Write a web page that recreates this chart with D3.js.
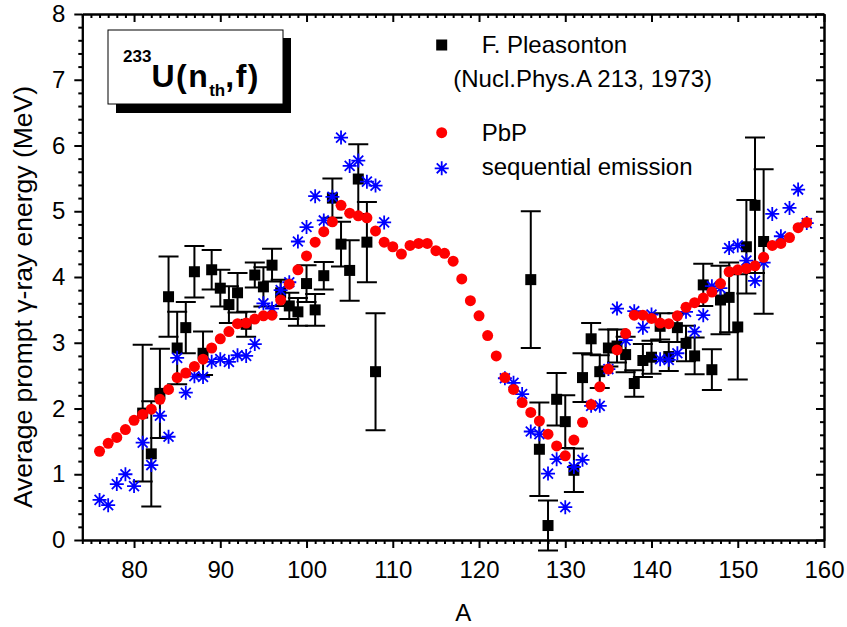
<!DOCTYPE html>
<html>
<head>
<meta charset="utf-8">
<script src="https://cdn.jsdelivr.net/npm/d3@7"></script>
<style>
  body { margin: 0; background: #fff; }
  text { font-family: "Liberation Sans", Arial, Helvetica, sans-serif; fill: #000; }
</style>
</head>
<body>
<svg id="chart" width="847" height="627"></svg>
<script>
// Axis tick labels
const xTickValues = [80, 90, 100, 110, 120, 130, 140, 150, 160];
const yTickValues = [0, 1, 2, 3, 4, 5, 6, 7, 8];

// PbP calculation: mass number A and average prompt gamma-ray energy (MeV)
const pbpA = [76,77,78,79,80,81,82,83,84,85,86,87,88,89,90,91,92,93,94,95,96,97,98,99,100,
  101,102,103,104,105,106,107,108,109,110,111,112,113,114,115,116,117,118,119,120,
  121,122,123,124,125,126,127,128,129,130,131,132,133,134,135,136,137,138,139,140,
  141,142,143,144,145,146,147,148,149,150,151,152,153,154,155,156,157,158];
const pbpE = [1.35,1.47,1.56,1.68,1.82,1.91,1.99,2.14,2.29,2.47,2.54,2.64,2.75,2.92,3.06,3.17,3.29,3.30,3.36,3.41,3.42,3.65,3.89,4.11,4.32,
  4.53,4.69,4.84,5.09,4.97,4.93,4.90,4.70,4.53,4.46,4.35,4.48,4.51,4.51,4.40,4.36,4.24,3.97,3.64,3.41,
  3.11,2.80,2.47,2.29,2.09,1.94,1.81,1.61,1.43,1.28,1.52,1.79,2.06,2.33,2.60,2.89,3.14,3.42,3.42,3.37,
  3.30,3.29,3.41,3.54,3.61,3.68,3.77,3.90,4.08,4.11,4.13,4.17,4.30,4.48,4.51,4.60,4.75,4.83];

// Sequential emission calculation
const seqA = [76,77,78,79,80,81,82,83,84,85,86,87,88,89,90,91,92,93,94,95,96,97,98,99,100,
  101,102,103,104,105,106,107,108,109,
  123,124,125,126,127,128,129,130,131,132,133,134,135,136,137,138,139,140,
  141,142,143,144,145,146,147,148,149,150,151,152,153,154,155,156,157,158];
const seqE = [0.61,0.53,0.85,1.00,0.82,1.48,1.14,1.89,1.57,2.77,2.24,2.49,2.48,2.71,2.75,2.71,2.81,2.80,2.98,3.60,3.52,3.80,3.92,4.54,4.76,
  5.23,4.86,5.22,6.12,5.69,5.77,5.45,5.39,4.83,
  2.46,2.39,2.22,1.65,1.61,1.01,1.23,0.50,1.11,1.22,2.04,2.04,2.60,3.52,3.04,3.48,3.23,3.43,
  2.75,2.74,2.84,3.47,3.17,3.42,3.86,3.83,4.44,4.48,4.25,3.94,4.22,4.96,4.62,5.05,5.33,4.82];

// F. Pleasonton measurement (Nucl.Phys.A 213, 1973) with uncertainties
const expA = [81,82,83,84,85,86,87,88,89,90,91,92,93,94,95,96,97,98,99,100,101,102,103,104,105,106,107,108,
  126,127,128,129,130,131,132,133,134,135,136,137,138,139,140,141,142,143,144,145,146,147,148,149,150,151,152,153];
const expE = [1.93,1.31,2.23,3.70,2.92,3.23,4.08,2.84,4.11,3.83,3.58,3.76,3.28,4.03,3.85,4.18,3.76,3.56,3.47,3.90,3.50,4.02,5.20,4.50,4.10,5.49,4.53,2.56,
  3.96,1.38,0.22,2.14,1.80,1.06,2.47,3.06,2.56,2.92,2.95,2.82,2.38,2.73,2.78,3.25,2.79,3.23,2.99,2.80,3.88,2.59,3.65,3.69,3.24,4.46,5.09,4.54];
const expErr = [1.04,0.80,0.68,0.61,0.55,0.39,0.39,0.33,0.30,0.28,0.28,0.30,0.19,0.19,0.30,0.25,0.20,0.20,0.21,0.28,0.24,0.21,0.30,0.34,0.46,0.53,0.61,0.89,
  1.04,0.71,0.38,0.40,0.40,0.33,0.37,0.24,0.25,0.28,0.25,0.27,0.20,0.25,0.25,0.20,0.22,0.22,0.27,0.28,0.32,0.31,0.52,0.53,0.80,0.71,1.03,1.10];

const svg = d3.select("#chart");
const frame = { left: 82.3, right: 824, top: 14, bottom: 540 };

const x = d3.scaleLinear().domain([74, 160]).range([frame.left, frame.right]);
const y = d3.scaleLinear().domain([0, 8]).range([frame.bottom, frame.top]);

const xMinor = d3.range(74, 161).filter(v => v % 10 !== 0);
const yMinor = d3.range(0, 8.001, 0.2).map(v => +v.toFixed(1)).filter(v => Math.abs(v - Math.round(v)) > 1e-6);

function styleAxis(g) {
  g.selectAll("path.domain").attr("stroke", "#000").attr("stroke-width", 2);
  g.selectAll(".tick line").attr("stroke", "#000").attr("stroke-width", 2);
  g.selectAll(".tick text").style("font-size", "24px").attr("fill", "#000");
}

// bottom axis (ticks outside) with labels
svg.append("g").attr("transform", `translate(0,${frame.bottom})`)
  .call(d3.axisBottom(x).tickValues(xMinor).tickSize(4).tickSizeOuter(0).tickFormat(""))
  .call(styleAxis);
svg.append("g").attr("transform", `translate(0,${frame.bottom})`)
  .call(d3.axisBottom(x).tickValues(xTickValues).tickSize(8).tickSizeOuter(0).tickPadding(13).tickFormat(d3.format("d")))
  .call(styleAxis);

// top axis (ticks inside), no labels
svg.append("g").attr("transform", `translate(0,${frame.top})`)
  .call(d3.axisTop(x).tickValues(xMinor).tickSize(-4).tickSizeOuter(0).tickFormat(""))
  .call(styleAxis);
svg.append("g").attr("transform", `translate(0,${frame.top})`)
  .call(d3.axisTop(x).tickValues(xTickValues).tickSize(-8).tickSizeOuter(0).tickFormat(""))
  .call(styleAxis);

// left axis (ticks outside) with labels
svg.append("g").attr("transform", `translate(${frame.left},0)`)
  .call(d3.axisLeft(y).tickValues(yMinor).tickSize(4).tickSizeOuter(0).tickFormat(""))
  .call(styleAxis);
svg.append("g").attr("transform", `translate(${frame.left},0)`)
  .call(d3.axisLeft(y).tickValues(yTickValues).tickSize(8).tickSizeOuter(0).tickPadding(9).tickFormat(d3.format("d")))
  .call(styleAxis);

// right axis (ticks inside), no labels
svg.append("g").attr("transform", `translate(${frame.right},0)`)
  .call(d3.axisRight(y).tickValues(yMinor).tickSize(-4).tickSizeOuter(0).tickFormat(""))
  .call(styleAxis);
svg.append("g").attr("transform", `translate(${frame.right},0)`)
  .call(d3.axisRight(y).tickValues(yTickValues).tickSize(-8).tickSizeOuter(0).tickFormat(""))
  .call(styleAxis);

// axis titles
svg.append("text")
  .attr("x", (frame.left + frame.right) / 2 + 10).attr("y", 621)
  .attr("text-anchor", "middle").style("font-size", "24px").text("A");
svg.append("text")
  .attr("transform", `translate(32,${(frame.top + frame.bottom) / 2 + 20}) rotate(-90)`)
  .attr("text-anchor", "middle").style("font-size", "26.5px")
  .text("Average prompt \u03b3-ray energy (MeV)");

// symbol helpers
const asteriskPath = (r) => {
  const d = r * Math.SQRT1_2;
  return `M0,${-r}L0,${r}M${-r},0L${r},0M${-d},${-d}L${d},${d}M${-d},${d}L${d},${-d}`;
};

// experimental data: error bars then squares
const exp = expA.map((a, i) => ({ a, e: expE[i], s: expErr[i] }));
const capHalf = 10;
const gExp = svg.append("g");
gExp.selectAll("path.err").data(exp).join("path")
  .attr("class", "err")
  .attr("d", d => {
    const cx = x(d.a), y1 = y(d.e + d.s), y0 = y(d.e - d.s);
    return `M${cx},${y1}L${cx},${y0}M${cx - capHalf},${y1}L${cx + capHalf},${y1}M${cx - capHalf},${y0}L${cx + capHalf},${y0}`;
  })
  .attr("stroke", "#000").attr("stroke-width", 2).attr("fill", "none");
const sq = 11;
gExp.selectAll("rect").data(exp).join("rect")
  .attr("x", d => x(d.a) - sq / 2).attr("y", d => y(d.e) - sq / 2)
  .attr("width", sq).attr("height", sq).attr("fill", "#000");

// sequential emission: blue asterisks
const starR = 7;
svg.append("g").selectAll("path").data(seqA.map((a, i) => ({ a, e: seqE[i] }))).join("path")
  .attr("transform", d => `translate(${x(d.a)},${y(d.e)})`)
  .attr("d", asteriskPath(starR))
  .attr("stroke", "#0000ff").attr("stroke-width", 1.8).attr("fill", "none");

// PbP: red circles
svg.append("g").selectAll("circle").data(pbpA.map((a, i) => ({ a, e: pbpE[i] }))).join("circle")
  .attr("cx", d => x(d.a)).attr("cy", d => y(d.e)).attr("r", 5.5)
  .attr("fill", "#ff0000");

// reaction label box with drop shadow
svg.append("rect").attr("x", 116).attr("y", 38).attr("width", 175).attr("height", 75).attr("fill", "#000");
svg.append("rect").attr("x", 108).attr("y", 30).attr("width", 175).attr("height", 74)
  .attr("fill", "#fff").attr("stroke", "#000").attr("stroke-width", 1);
const title = svg.append("text").attr("x", 123).attr("y", 87)
  .style("font-weight", "bold").style("font-size", "32px");
title.append("tspan").attr("dy", -25).style("font-size", "17px").text("233");
title.append("tspan").attr("dy", 25).style("letter-spacing", "1.5px").text("U(n");
title.append("tspan").attr("dy", 9).style("font-size", "17px").text("th");
title.append("tspan").attr("dy", -9).style("letter-spacing", "1.5px").text(",f)");

// legend
const legX = 441.7, legTextX = 481.7, legFont = "24px";
svg.append("rect").attr("x", legX - sq / 2).attr("y", 45 - sq / 2).attr("width", sq).attr("height", sq).attr("fill", "#000");
svg.append("text").attr("x", legTextX).attr("y", 53).style("font-size", legFont).text("F. Pleasonton");
svg.append("text").attr("x", 453.3).attr("y", 87).style("font-size", legFont).text("(Nucl.Phys.A 213, 1973)");
svg.append("circle").attr("cx", legX).attr("cy", 132.7).attr("r", 5.5).attr("fill", "#ff0000");
svg.append("text").attr("x", legTextX).attr("y", 141).style("font-size", legFont).text("PbP");
svg.append("path").attr("transform", `translate(${legX},168.3)`).attr("d", asteriskPath(starR))
  .attr("stroke", "#0000ff").attr("stroke-width", 1.8).attr("fill", "none");
svg.append("text").attr("x", legTextX).attr("y", 175).style("font-size", legFont).text("sequential emission");
</script>
</body>
</html>
